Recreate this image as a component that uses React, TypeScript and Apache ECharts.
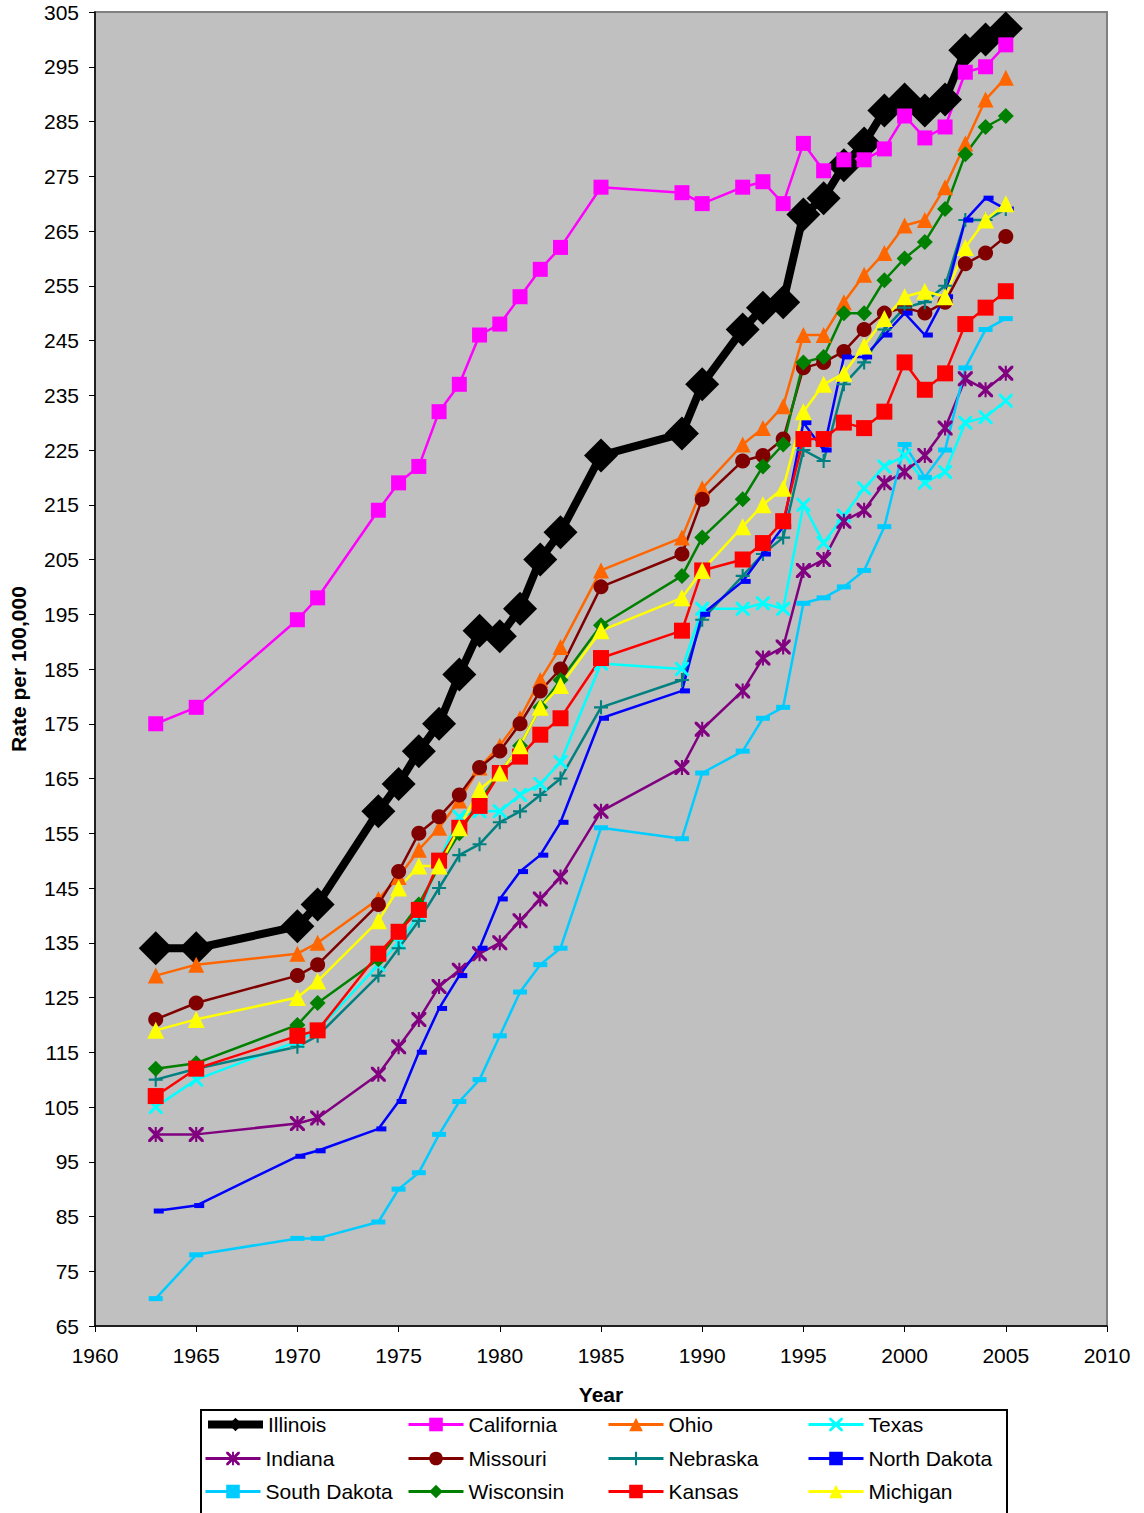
import React, { useEffect, useRef } from "react";
import * as echarts from "echarts";

const years = [1963, 1965, 1970, 1971, 1974, 1975, 1976, 1977, 1978, 1979, 1980, 1981, 1982, 1983, 1985, 1989, 1990, 1992, 1993, 1994, 1995, 1996, 1997, 1998, 1999, 2000, 2001, 2002, 2003, 2004, 2005];

const illinois = [134, 134, 138, 142, 159, 164, 170, 175, 184, 192, 191, 196, 205, 210, 224, 228, 237, 247, 251, 252, 268, 271, 277, 281, 287, 289, 287, 289, 298, 300, 302];
const california = [175, 178, 194, 198, 214, 219, 222, 232, 237, 246, 248, 253, 258, 262, 273, 272, 270, 273, 274, 270, 281, 276, 278, 278, 280, 286, 282, 284, 294, 295, 299];
const ohio = [129, 131, 133, 135, 143, 147, 152, 156, 161, 167, 171, 176, 183, 189, 203, 209, 218, 226, 229, 233, 246, 246, 252, 257, 261, 266, 267, 273, 281, 289, 293];
const texas = [105, 110, 117, 119, 131, 135, 140, 150, 158, 159, 159, 162, 164, 168, 186, 185, 196, 196, 197, 196, 215, 208, 213, 218, 222, 224, 219, 221, 230, 231, 234];
const indiana = [100, 100, 102, 103, 111, 116, 121, 127, 130, 133, 135, 139, 143, 147, 159, 167, 174, 181, 187, 189, 203, 205, 212, 214, 219, 221, 224, 229, 238, 236, 239];
const missouri = [121, 124, 129, 131, 142, 148, 155, 158, 162, 167, 170, 175, 181, 185, 200, 206, 216, 223, 224, 227, 240, 241, 243, 247, 250, 251, 250, 252, 259, 261, 264];
const nebraska = [110, 112, 116, 118, 129, 134, 139, 145, 151, 153, 157, 159, 162, 165, 178, 183, 194, 202, 206, 209, 225, 223, 237, 241, 247, 251, 252, 255, 267, 267, 269];
const northDakota = [86, 87, 96, 97, 101, 106, 115, 123, 129, 134, 143, 148, 151, 157, 176, 181, 195, 201, 206, 211, 230, 225, 242, 242, 246, 250, 246, 253, 267, 271, 269];
const southDakota = [70, 78, 81, 81, 84, 90, 93, 100, 106, 110, 118, 126, 131, 134, 156, 154, 166, 170, 176, 178, 197, 198, 200, 203, 211, 226, 220, 225, 240, 247, 249];
const wisconsin = [112, 113, 120, 124, 132, 137, 142, 149, 155, 161, 166, 171, 178, 183, 193, 202, 209, 216, 222, 226, 241, 242, 250, 250, 256, 260, 263, 269, 279, 284, 286];
const kansas = [107, 112, 118, 119, 133, 137, 141, 150, 156, 160, 166, 169, 173, 176, 187, 192, 203, 205, 208, 212, 227, 227, 230, 229, 232, 241, 236, 239, 248, 251, 254];
const michigan = [119, 121, 125, 128, 139, 145, 149, 149, 156, 163, 166, 171, 178, 182, 192, 198, 203, 211, 215, 218, 232, 237, 239, 244, 249, 253, 254, 253, 262, 267, 270];

const FONT = "'Liberation Sans', Arial, sans-serif";

const X_PATH = "path://M0,0L3,0L10,7L17,0L20,0L20,3L13,10L20,17L20,20L17,20L10,13L3,20L0,20L0,17L7,10L0,3Z";
const STAR_PATH = "path://M0,0L3,0L10,7L17,0L20,0L20,3L13,10L20,17L20,20L17,20L10,13L3,20L0,20L0,17L7,10L0,3Z M8.6,0L11.4,0L11.4,20L8.6,20Z";
const PLUS_PATH = "path://M8.5,0L11.5,0L11.5,8.5L20,8.5L20,11.5L11.5,11.5L11.5,20L8.5,20L8.5,11.5L0,11.5L0,8.5L8.5,8.5Z";

type SeriesDef = {
  name: string;
  values: number[];
  color: string;
  symbol: string;
  size: number | number[];
  width: number;
  offset?: number[];
};

const seriesDefs: SeriesDef[] = [
  { name: "Illinois", values: illinois, color: "#000000", symbol: "diamond", size: 34, width: 8 },
  { name: "California", values: california, color: "#FF00FF", symbol: "rect", size: 15, width: 2.5 },
  { name: "Ohio", values: ohio, color: "#FF6600", symbol: "triangle", size: 16, width: 2.5 },
  { name: "Texas", values: texas, color: "#00FFFF", symbol: X_PATH, size: 14, width: 2.5 },
  { name: "Indiana", values: indiana, color: "#800080", symbol: STAR_PATH, size: 15, width: 2.5 },
  { name: "Missouri", values: missouri, color: "#800000", symbol: "circle", size: 15, width: 2.5 },
  { name: "Nebraska", values: nebraska, color: "#008080", symbol: PLUS_PATH, size: 14, width: 2.5 },
  { name: "North Dakota", values: northDakota, color: "#0000FF", symbol: "rect", size: [10, 5], width: 2.5, offset: [3, 0] },
  { name: "South Dakota", values: southDakota, color: "#00CCFF", symbol: "rect", size: [14, 5], width: 2.5 },
  { name: "Wisconsin", values: wisconsin, color: "#008000", symbol: "diamond", size: 16, width: 2.5 },
  { name: "Kansas", values: kansas, color: "#FF0000", symbol: "rect", size: 16, width: 2.5 },
  { name: "Michigan", values: michigan, color: "#FFFF00", symbol: "triangle", size: 17, width: 2.5 },
];

const legendCols = [204, 407, 607, 807];
const legendRows = [1414, 1448, 1481];

export default function App() {
  const ref = useRef<HTMLDivElement>(null);

  useEffect(() => {
    document.body.style.margin = "0";
    if (!ref.current) return;
    const chart = echarts.init(ref.current, null, { renderer: "svg" });

    const series = seriesDefs.map((d) => ({
      name: d.name,
      type: "line",
      data: years.map((y, i) => [y, d.values[i]]),
      symbol: d.symbol,
      symbolSize: d.size,
      symbolOffset: d.offset || [0, 0],
      showSymbol: true,
      showAllSymbol: true,
      lineStyle: { color: d.color, width: d.width },
      itemStyle: { color: d.color, borderWidth: 0 },
      emphasis: { disabled: true },
      z: 2,
    }));

    const legends = seriesDefs.map((d, i) => ({
      data: [d.name],
      left: legendCols[i % 4],
      top: legendRows[Math.floor(i / 4)],
      padding: 0,
      itemWidth: 55,
      itemHeight: 17,
      selectedMode: false,
      lineStyle: { width: d.name === "Illinois" ? 8 : 3, color: d.color },
      itemStyle: { color: d.color, borderWidth: 0 },
      textStyle: { fontFamily: FONT, fontSize: 21, color: "#000" },
      z: 5,
    }));

    chart.setOption({
      animation: false,
      backgroundColor: "#ffffff",
      grid: {
        left: 95,
        top: 12,
        width: 1012,
        height: 1314,
        show: true,
        backgroundColor: "#C0C0C0",
        borderColor: "#808080",
        borderWidth: 2,
      },
      xAxis: {
        type: "value",
        min: 1960,
        max: 2010,
        interval: 5,
        name: "Year",
        nameLocation: "middle",
        nameGap: 58,
        nameTextStyle: { fontFamily: FONT, fontSize: 21, fontWeight: "bold", color: "#000" },
        axisLine: { show: true, onZero: false, lineStyle: { color: "#000", width: 1.5 } },
        axisTick: { show: true, inside: false, length: 6, lineStyle: { color: "#000" } },
        axisLabel: {
          fontFamily: FONT,
          fontSize: 21,
          color: "#000",
          margin: 19,
          formatter: (v: number) => String(v),
        },
        splitLine: { show: false },
      },
      yAxis: {
        type: "value",
        min: 65,
        max: 305,
        interval: 10,
        name: "Rate per 100,000",
        nameLocation: "middle",
        nameGap: 66,
        nameRotate: 90,
        nameTextStyle: { fontFamily: FONT, fontSize: 21, fontWeight: "bold", color: "#000" },
        axisLine: { show: true, onZero: false, lineStyle: { color: "#000", width: 1.5 } },
        axisTick: { show: true, inside: false, length: 6, lineStyle: { color: "#000" } },
        axisLabel: { fontFamily: FONT, fontSize: 21, color: "#000", margin: 16 },
        splitLine: { show: false },
      },
      legend: legends,
      graphic: [
        {
          type: "rect",
          z: 1,
          shape: { x: 201, y: 1410, width: 806, height: 130 },
          style: { fill: "#ffffff", stroke: "#000000", lineWidth: 2 },
        },
      ],
      series,
    });

    return () => chart.dispose();
  }, []);

  return (
    <div
      ref={ref}
      style={{ position: "absolute", left: 0, top: 0, width: 1144, height: 1513 }}
    />
  );
}
